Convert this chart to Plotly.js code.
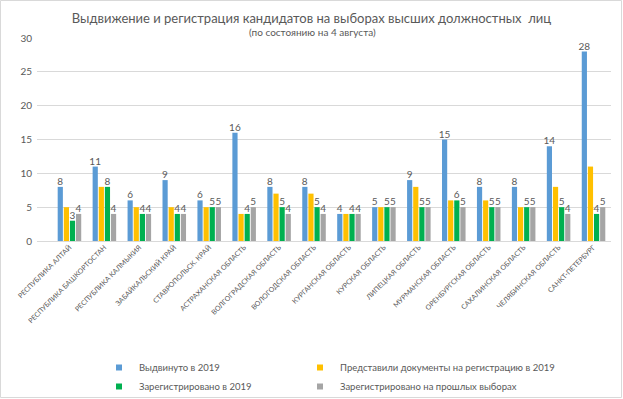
<!DOCTYPE html>
<html>
<head>
<meta charset="utf-8">
<script src="https://cdn.plot.ly/plotly-3.0.1.min.js"></script>
<style>html,body{margin:0;padding:0;background:#fff;}#chart{width:623px;height:399px;}</style>
</head>
<body>
<div id="chart"></div>
<script>
const categories = ["РЕСПУБЛИКА АЛТАЙ","РЕСПУБЛИКА БАШКОРТОСТАН","РЕСПУБЛИКА КАЛМЫКИЯ","ЗАБАЙКАЛЬСКИЙ КРАЙ","СТАВРОПОЛЬСК. КРАЙ","АСТРАХАНСКАЯ ОБЛАСТЬ","ВОЛГОГРАДСКАЯ ОБЛАСТЬ","ВОЛОГОДСКАЯ ОБЛАСТЬ","КУРГАНСКАЯ ОБЛАСТЬ","КУРСКАЯ ОБЛАСТЬ","ЛИПЕЦКАЯ ОБЛАСТЬ","МУРМАНСКАЯ ОБЛАСТЬ","ОРЕНБУРГСКАЯ ОБЛАСТЬ","САХАЛИНСКАЯ ОБЛАСТЬ","ЧЕЛЯБИНСКАЯ ОБЛАСТЬ","САНКТ-ПЕТЕРБУРГ"];
const nominated2019 = [8,11,6,9,6,16,8,8,4,5,9,15,8,8,14,28];
const submitted2019 = [5,8,5,5,5,4,7,7,4,5,8,6,6,5,8,11];
const registered2019 = [3,8,4,4,5,4,5,5,4,5,5,6,5,5,5,4];
const registeredPrev = [4,4,4,4,5,5,4,4,4,5,5,5,5,5,4,5];
const seriesNames = ["Выдвинуто в 2019","Представили документы на регистрацию в 2019","Зарегистрировано в 2019","Зарегистрировано на прошлых выборах"];
const showLabels = [true,false,true,true];
const colors = ["#5B9BD5","#FFC000","#00B050","#A5A5A5"];
const allSeries = [nominated2019, submitted2019, registered2019, registeredPrev];

const FONT = "Lato, 'Open Sans', sans-serif";
const TXT = "#595959";
const W = 623, H = 399;
const M = {l:37, r:12, t:38, b:158};
const pw = W - M.l - M.r, ph = H - M.t - M.b;

const traces = [];
allSeries.forEach((vals, i) => {
  traces.push({
    type: 'bar', x: categories, y: vals, name: seriesNames[i],
    marker: {color: colors[i]}, showlegend: false,
    text: showLabels[i] ? vals.map(String) : null,
    textposition: showLabels[i] ? 'outside' : 'none',
    textangle: 0, constraintext: 'none', cliponaxis: false,
    textfont: {family: FONT, size: 10, color: TXT},
    hoverinfo: 'x+y+name'
  });
});
// legend entries (columns: 1&3 in legend, 2&4 in legend2)
const legendOf = ['legend','legend2','legend','legend2'];
allSeries.forEach((vals, i) => {
  traces.push({
    type: 'scatter', mode: 'markers', x: [categories[0]], y: [null],
    name: seriesNames[i], legend: legendOf[i], showlegend: true,
    marker: {symbol: 'square', size: 6, color: colors[i]}, hoverinfo: 'skip'
  });
});

const px2x = p => (p - M.l) / pw;
const px2y = p => (H - M.b - p) / ph;

const legendCommon = {
  orientation: 'v', xanchor: 'left', yanchor: 'top', yref: 'container',
  font: {family: FONT, size: 9.5, color: TXT}, bgcolor: 'rgba(0,0,0,0)',
  borderwidth: 0, tracegroupgap: 0, itemsizing: 'trace'
};

const layout = {
  width: W, height: H, margin: M,
  paper_bgcolor: '#ffffff', plot_bgcolor: '#ffffff',
  font: {family: FONT, color: TXT},
  title: {
    text: 'Выдвижение и регистрация кандидатов на выборах высших должностных  лиц',
    font: {family: FONT, size: 13, color: TXT, weight: 'normal'},
    x: 0.5, xref: 'container', xanchor: 'center',
    y: 1 - 18/H, yref: 'container', yanchor: 'middle'
  },
  annotations: [{
    text: '(по состоянию на 4 августа)', showarrow: false,
    xref: 'paper', yref: 'paper', x: px2x(312), y: px2y(32),
    xanchor: 'center', yanchor: 'middle',
    font: {family: FONT, size: 10, color: TXT}
  }],
  barmode: 'group', bargap: 0.3, bargroupgap: 0.15,
  xaxis: {
    type: 'category', tickangle: -45, showgrid: false, showline: false,
    ticks: '', tickfont: {family: FONT, size: 7, color: TXT}, fixedrange: true
  },
  yaxis: {
    range: [0, 30], dtick: 5, tick0: 0, showgrid: true, gridcolor: '#D9D9D9',
    gridwidth: 1, zeroline: true, zerolinecolor: '#D9D9D9', zerolinewidth: 1,
    showline: false, ticks: '', ticklabelstandoff: 4,
    tickfont: {family: FONT, size: 10, color: TXT}, fixedrange: true
  },
  legend: Object.assign({}, legendCommon, {x: px2x(99), y: 1 - 353/H}),
  legend2: Object.assign({}, legendCommon, {x: px2x(300), y: 1 - 353/H}),
  shapes: [{
    type: 'rect', xref: 'paper', yref: 'paper',
    x0: px2x(0.5), x1: px2x(621.5), y0: px2y(397.5), y1: px2y(0.5),
    line: {color: '#D9D9D9', width: 1}, fillcolor: 'rgba(0,0,0,0)', layer: 'below'
  }],
  showlegend: true
};

Plotly.newPlot('chart', traces, layout, {staticPlot: true, displayModeBar: false});
</script>
</body>
</html>
